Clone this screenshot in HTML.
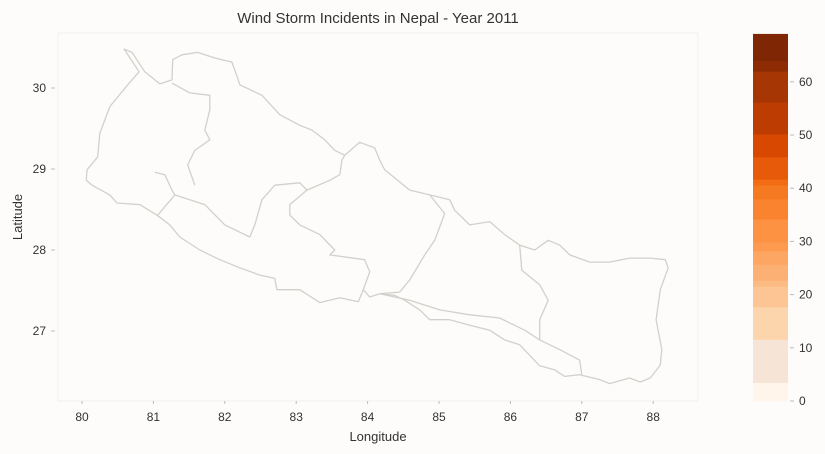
<!DOCTYPE html>
<html><head><meta charset="utf-8"><style>
html,body{margin:0;padding:0;background:#fdfcfb;}
svg{display:block;font-family:"Liberation Sans",sans-serif;}
</style></head><body>
<svg id="c" width="825" height="454"></svg>
<script>
const xTicks=[80,81,82,83,84,85,86,87,88];
const yTicks=[27,28,29,30];
const cbTicks=[0,10,20,30,40,50,60];
const cbEdges=[0,3.5,11.6,17.7,21.6,22.7,25.7,28.2,29.9,34.2,38,40.6,41.7,45.9,50.2,56.2,62,64,69];
const cbColors=["#fff5eb","#f6e4d6","#fdd5ad","#fdc593","#fdbb84","#fdb073","#fda562","#fd9a50","#fd9243","#f9832e","#f47920","#f16c13","#e65a0a","#d84801","#bd3c02","#a63603","#8d2c04","#7f2704"];
const outline=[[80.59,30.48],[80.70,30.44],[80.88,30.20],[81.09,30.05],[81.26,30.10],[81.27,30.35],[81.40,30.41],[81.62,30.44],[81.86,30.37],[82.10,30.32],[82.18,30.12],[82.21,30.04],[82.52,29.91],[82.77,29.67],[83.05,29.54],[83.22,29.48],[83.40,29.36],[83.54,29.23],[83.68,29.17],[83.89,29.33],[84.10,29.26],[84.17,29.11],[84.24,28.99],[84.38,28.89],[84.59,28.74],[84.87,28.68],[85.15,28.62],[85.22,28.49],[85.43,28.31],[85.71,28.35],[85.92,28.19],[86.13,28.06],[86.34,28.00],[86.53,28.12],[86.69,28.06],[86.83,27.94],[87.11,27.85],[87.39,27.85],[87.67,27.90],[87.96,27.90],[88.17,27.88],[88.21,27.78],[88.10,27.51],[88.04,27.14],[88.12,26.77],[88.10,26.58],[87.96,26.42],[87.82,26.37],[87.67,26.42],[87.39,26.35],[87.25,26.40],[86.97,26.46],[86.76,26.44],[86.62,26.52],[86.41,26.57],[86.27,26.70],[86.13,26.83],[85.92,26.89],[85.71,27.01],[85.43,27.07],[85.15,27.14],[84.87,27.14],[84.73,27.26],[84.52,27.38],[84.38,27.44],[84.17,27.46],[84.03,27.42],[83.94,27.51],[83.87,27.36],[83.61,27.41],[83.33,27.35],[83.05,27.51],[82.73,27.51],[82.70,27.65],[82.49,27.69],[82.21,27.78],[81.93,27.88],[81.65,28.00],[81.37,28.16],[81.23,28.31],[81.05,28.43],[80.81,28.56],[80.49,28.58],[80.39,28.68],[80.14,28.80],[80.06,28.86],[80.07,28.99],[80.22,29.15],[80.25,29.44],[80.39,29.77],[80.64,30.04],[80.80,30.20],[80.59,30.48]];
const borders=[
[[81.26,30.06],[81.51,29.94],[81.79,29.91],[81.79,29.73],[81.72,29.48],[81.79,29.36],[81.58,29.23],[81.48,29.05],[81.58,28.80]],
[[81.02,28.96],[81.16,28.93],[81.26,28.74],[81.30,28.68],[81.06,28.43]],
[[81.30,28.68],[81.72,28.56],[82.00,28.31],[82.35,28.16],[82.42,28.31],[82.52,28.62],[82.70,28.80],[83.05,28.83],[83.15,28.74],[83.47,28.86],[83.61,28.93],[83.64,29.11],[83.68,29.17]],
[[83.15,28.74],[82.91,28.56],[82.91,28.43],[83.05,28.31],[83.33,28.19],[83.54,28.00],[83.47,27.94],[83.96,27.88],[84.03,27.73],[83.94,27.51]],
[[84.87,28.68],[85.08,28.45],[84.94,28.12],[84.80,27.94],[84.59,27.63],[84.45,27.48],[84.17,27.46]],
[[84.17,27.46],[84.59,27.38],[85.01,27.26],[85.43,27.20],[85.85,27.16],[86.20,27.01],[86.41,26.89],[86.69,26.77],[86.97,26.64],[87.00,26.46]],
[[86.13,28.06],[86.16,27.75],[86.41,27.57],[86.53,27.38],[86.41,27.14],[86.41,26.89]]
];
const NS="http://www.w3.org/2000/svg",svg=document.getElementById('c');
function el(t,a,p){const e=document.createElementNS(NS,t);for(const k in a)e.setAttribute(k,a[k]);(p||svg).appendChild(e);return e;}
const X=v=>82+(v-80)*71.4, Y=v=>88+(30-v)*81;
const CY=v=>401-v*5.32;
// plot bg
const bg=el('rect',{x:58,y:33,width:640,height:368,fill:'#fdfcfb',stroke:'#f2efec','stroke-width':1});


const t=el('text',{x:378,y:23,'text-anchor':'middle','font-size':15,fill:'#333'});t.textContent='Wind Storm Incidents in Nepal - Year 2011';


const toPath=pts=>pts.map((p,i)=>(i?'L':'M')+X(p[0]).toFixed(1)+','+Y(p[1]).toFixed(1)).join('');
const o=el('path',{d:toPath(outline)+'Z',fill:'#fdfcfb',stroke:'#d3cfcb','stroke-width':1.3,'stroke-linejoin':'round'});


borders.forEach((b,i)=>{const p=el('path',{d:toPath(b),fill:'none',stroke:'#d3cfcb','stroke-width':1.3,'stroke-linejoin':'round'});

});
xTicks.forEach(v=>{const l=el('text',{x:X(v),y:421,'text-anchor':'middle','font-size':12,fill:'#333'});l.textContent=v;


el('line',{x1:X(v),x2:X(v),y1:401,y2:404,stroke:'#bbb'});});
yTicks.forEach(v=>{const l=el('text',{x:46,y:Y(v)+4,'text-anchor':'end','font-size':12,fill:'#333'});l.textContent=v;


el('line',{x1:51,x2:55,y1:Y(v),y2:Y(v),stroke:'#bbb'});});
const xt=el('text',{x:378,y:441,'text-anchor':'middle','font-size':13,fill:'#333'});xt.textContent='Longitude';


const yt=el('text',{x:22,y:217,'text-anchor':'middle','font-size':13,fill:'#333',transform:'rotate(-90 22 217)'});yt.textContent='Latitude';


for(let i=0;i<cbColors.length;i++){const r=el('rect',{x:753,y:CY(cbEdges[i+1]),width:35,height:CY(cbEdges[i])-CY(cbEdges[i+1])+0.5,fill:cbColors[i]});

}
cbTicks.forEach(v=>{const l=el('text',{x:799,y:CY(v)+4,'font-size':12,fill:'#333'});l.textContent=v;


el('line',{x1:790,x2:794,y1:CY(v),y2:CY(v),stroke:'#bbb'});});
</script>
</body></html>
